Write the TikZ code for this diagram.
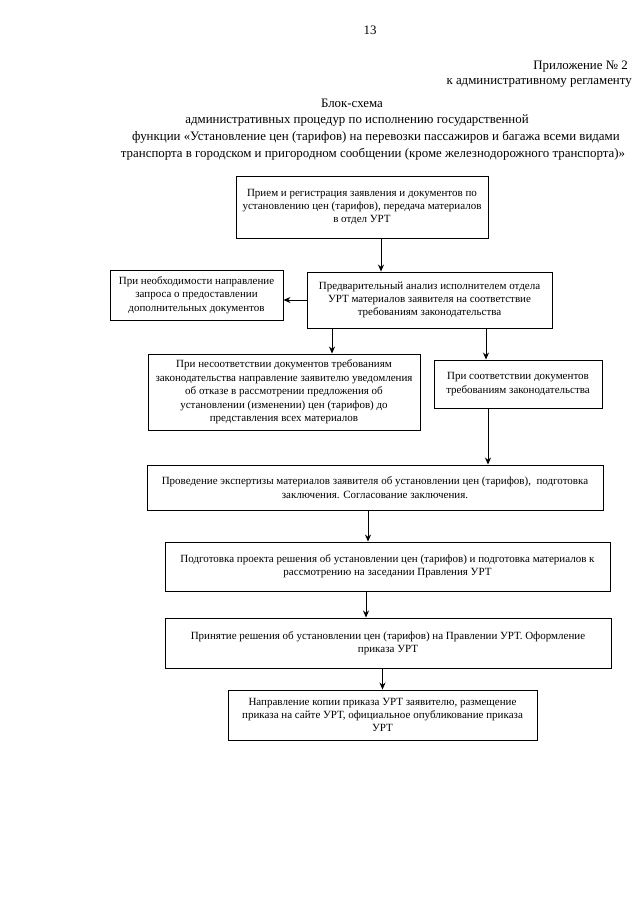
\documentclass[tikz,border=0pt]{standalone}
\usepackage{fontspec}
\setmainfont{Liberation Serif}
\usetikzlibrary{arrows.meta}

\begin{document}
\begin{tikzpicture}[x=1pt, y=-1pt,
  blok/.style={draw=black, line width=0.9pt, align=center, inner sep=2pt,
    font=\fontsize{11}{13.4}\selectfont},
  strelka/.style={line width=0.9pt, -{Stealth[length=7pt,width=6pt]}},
  shapka/.style={font=\fontsize{12.9}{15}\selectfont, inner sep=0pt}]

\useasboundingbox (0,0) rectangle (640,905);

% Page number and appendix mark
\node[shapka] (nomer) at (370,30) {13};
\node[shapka, anchor=east] (prilozh) at (628,67) {Приложение № 2};
\node[shapka, anchor=east] (reglament) at (632,83) {к административному регламенту};

% Title
\node[shapka] (titul1) at (352,103) {Блок-схема};
\node[shapka] (titul2) at (357,120) {административных процедур по исполнению государственной};
\node[shapka] (titul3) at (376,137) {функции «Установление цен (тарифов) на перевозки пассажиров и багажа всеми видами};
\node[shapka] (titul4) at (373,154) {транспорта в городском и пригородном сообщении (кроме железнодорожного транспорта)»};

% Reception of the application
\node[blok, minimum width=252pt, minimum height=62pt] (priem) at (362,207)
  {Прием и регистрация заявления и документов по\\установлению цен (тарифов), передача материалов\\в отдел УРТ};

% Preliminary analysis
\node[blok, minimum width=245pt, minimum height=56pt] (analiz) at (429.5,300)
  {Предварительный анализ исполнителем отдела\\УРТ материалов заявителя на соответствие\\требованиям законодательства};

% Request for extra documents
\node[blok, minimum width=173pt, minimum height=50pt] (zapros) at (196.5,295)
  {При необходимости направление\\запроса о предоставлении\\дополнительных документов};

% Non-compliance
\node[blok, minimum width=272pt, minimum height=76pt] (nesootv) at (284,392)
  {При несоответствии документов требованиям\\законодательства направление заявителю уведомления\\об отказе в рассмотрении предложения об\\установлении (изменении) цен (тарифов) до\\представления всех материалов};

% Compliance
\node[blok, minimum width=168pt, minimum height=48pt] (sootv) at (518,384)
  {При соответствии документов\\требованиям законодательства};

% Expert review
\node[blok, minimum width=456pt, minimum height=45pt] (ekspert) at (375,487.5)
  {Проведение экспертизы материалов заявителя об установлении цен (тарифов),~ подготовка\\заключения. Согласование заключения.};

% Draft decision
\node[blok, minimum width=445pt, minimum height=49pt] (proekt) at (387.5,566.5)
  {Подготовка проекта решения об установлении цен (тарифов) и подготовка материалов к\\рассмотрению на заседании Правления УРТ};

% Decision of the Board
\node[blok, minimum width=446pt, minimum height=50pt] (prinyat) at (388,643)
  {Принятие решения об установлении цен (тарифов) на Правлении УРТ. Оформление\\приказа УРТ};

% Publication
\node[blok, minimum width=309pt, minimum height=50pt] (napravl) at (382.5,715)
  {Направление копии приказа УРТ заявителю, размещение\\приказа на сайте УРТ, официальное опубликование приказа\\УРТ};

% Arrows
\draw[strelka] ([xshift=19pt]priem.south) -- ([xshift=19pt]priem.south |- analiz.north);
\draw[strelka] (analiz.west) -- (analiz.west -| zapros.east);
\draw[strelka] ([xshift=-97.5pt]analiz.south) -- ([xshift=-97.5pt]analiz.south |- nesootv.north);
\draw[strelka] ([xshift=-32pt]sootv.north |- analiz.south) -- ([xshift=-32pt]sootv.north);
\draw[strelka] ([xshift=-30pt]sootv.south) -- ([xshift=-30pt]sootv.south |- ekspert.north);
\draw[strelka] ([xshift=-7pt]ekspert.south) -- ([xshift=-7pt]ekspert.south |- proekt.north);
\draw[strelka] ([xshift=-21.5pt]proekt.south) -- ([xshift=-21.5pt]proekt.south |- prinyat.north);
\draw[strelka] (napravl.north |- prinyat.south) -- (napravl.north);

\end{tikzpicture}
\end{document}
